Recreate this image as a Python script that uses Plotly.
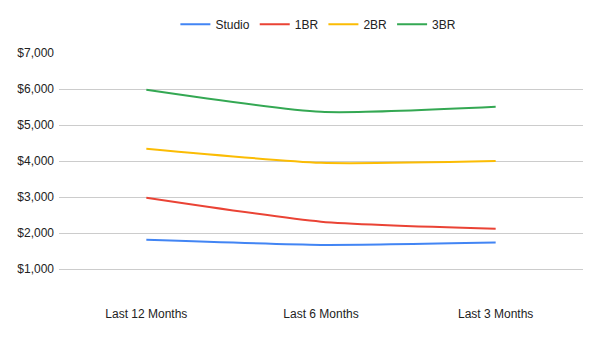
import plotly.graph_objects as go

categories = ["Last 12 Months", "Last 6 Months", "Last 3 Months"]
studio = [1810, 1670, 1735]
br1 = [2980, 2315, 2120]
br2 = [4340, 3950, 4000]
br3 = [5980, 5365, 5505]
series_names = ["Studio", "1BR", "2BR", "3BR"]
colors = ["#4285F4", "#EA4335", "#FBBC04", "#34A853"]
tick_vals = [1000, 2000, 3000, 4000, 5000, 6000, 7000]
tick_text = ["$1,000", "$2,000", "$3,000", "$4,000", "$5,000", "$6,000", "$7,000"]

fig = go.Figure()
for name, vals, c in zip(series_names, [studio, br1, br2, br3], colors):
    fig.add_trace(go.Scatter(x=categories, y=vals, name=name, mode="lines",
                             line=dict(color=c, width=2, shape="spline", smoothing=0.6)))

fig.update_layout(
    width=600, height=340,
    margin=dict(l=59, r=17, t=53, b=35, autoexpand=False),
    paper_bgcolor="white", plot_bgcolor="white",
    font=dict(family="Liberation Sans, Arial, sans-serif", size=12, color="#222222"),
    legend=dict(orientation="h", x=0.495, xanchor="center", y=0.929, yanchor="middle",
                yref="container", font=dict(size=12, color="#222222"), itemwidth=30,
                tracegroupgap=0),
    showlegend=True,
)
fig.update_xaxes(showgrid=False, showline=False, ticks="", zeroline=False,
                 range=[-0.5, 2.5], tickfont=dict(size=12, color="#222222"))
fig.update_yaxes(range=[0, 7000], tickvals=tick_vals, ticktext=tick_text,
                 showgrid=True, gridcolor="#cccccc", gridwidth=1, zeroline=False,
                 showline=False, ticks="", ticklabelstandoff=4,
                 tickfont=dict(size=12, color="#222222"))

fig.write_html("out.html")
